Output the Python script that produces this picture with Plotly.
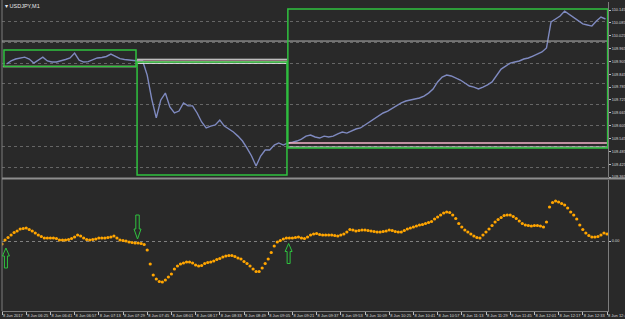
import pandas as pd
import plotly.graph_objects as go

# ---------------- data ----------------
START = "2017-06-08 06:09"
symbol_title = "▾ USDJPY,M1"

# close prices, sampled every 3 minutes from 06:12
price_close = [
    109.893, 109.907, 109.916, 109.921, 109.925, 109.916, 109.897, 109.911, 109.925, 109.907,
    109.902, 109.902, 109.907, 109.914, 109.921, 109.944, 109.911, 109.902, 109.904, 109.911,
    109.921, 109.923, 109.928, 109.939, 109.930, 109.918, 109.914, 109.911, 109.911, 109.907,
    109.907, 109.841, 109.729, 109.641, 109.725, 109.757, 109.692, 109.664, 109.673, 109.711,
    109.697, 109.697, 109.664, 109.622, 109.594, 109.603, 109.608, 109.631, 109.603, 109.589,
    109.575, 109.556, 109.533, 109.500, 109.463, 109.416, 109.463, 109.491, 109.491, 109.514,
    109.524, 109.514, 109.524, 109.528, 109.533, 109.542, 109.556, 109.561, 109.552, 109.547,
    109.556, 109.552, 109.556, 109.566, 109.575, 109.570, 109.580, 109.589, 109.594, 109.608,
    109.622, 109.636, 109.650, 109.664, 109.673, 109.687, 109.701, 109.711, 109.720, 109.725,
    109.729, 109.734, 109.743, 109.757, 109.776, 109.809, 109.832, 109.841, 109.837, 109.827,
    109.818, 109.804, 109.790, 109.785, 109.776, 109.785, 109.795, 109.809, 109.837, 109.869,
    109.883, 109.897, 109.902, 109.907, 109.916, 109.921, 109.930, 109.939, 109.949, 109.968,
    110.089, 110.103, 110.117, 110.140, 110.126, 110.108, 110.094, 110.080, 110.075, 110.070,
    110.094, 110.112, 110.103,
]
price_step_min = 3

# oscillator values, sampled every 2 minutes from 06:09
osc_values = [
    -3, 1, 3.5, 6, 8.5, 10, 12, 12.5, 13, 11.5,
    10, 8, 6, 4.5, 3, 3, 3, 3, 2.5, 1,
    1, 1, 1.5, 2.5, 4, 6, 5, 3, 1.5, 1,
    1.5, 2, 3, 3, 3, 3.5, 4, 5, 3, 1,
    0.5, 0, -1, -1.5, -2, -2, -2.5, -3.5, -9, -23,
    -34, -38, -40.5, -41, -39, -36, -33, -28, -25, -23,
    -22, -21, -21, -22, -24, -25, -24.5, -22.5, -21.5, -21,
    -20, -18.5, -17.5, -16, -15, -14.5, -14.5, -15.5, -17, -18,
    -20.5, -22.5, -25, -28, -30.5, -30.5, -27, -22.5, -18, -11.5,
    -5, -1, 0.5, 2, 3, 3, 3, 3.5, 4, 3,
    2.5, 4, 6, 7, 7.5, 6.5, 6, 6, 6, 6,
    5.5, 5, 6, 7, 9, 11.5, 11, 10, 10.5, 11,
    11, 10.5, 10, 9.5, 9, 9, 9.5, 10, 11, 10.5,
    9.5, 9, 9, 10.5, 12, 13, 14, 15, 16, 16.5,
    17.5, 18.5, 19.5, 22, 24, 26, 28, 29, 28.5, 26,
    22.5, 17.5, 14, 11, 9, 7, 5, 3.5, 3, 6,
    9, 12, 15.5, 19, 21.5, 23.5, 25.5, 26, 26, 24.5,
    22.5, 20, 17.5, 16, 15.5, 15, 15.5, 15.5, 15, 14,
    19, 34, 38.5, 40, 39, 37.5, 36, 33, 29, 26,
    22, 16, 11.5, 8, 5.5, 4, 4, 4.5, 6, 8,
    7,
]
osc_step_min = 2

# time axis labels
tick_times = ["06:09", "06:25", "06:41", "06:57", "07:13", "07:29", "07:45", "08:01", "08:17",
              "08:33", "08:49", "09:05", "09:21", "09:37", "09:53", "10:09", "10:25", "10:41",
              "10:57", "11:13", "11:29", "11:45", "12:01", "12:17", "12:33", "12:49"]
tick_labels = ["8 Jun 2017"] + ["8 Jun " + t for t in tick_times[1:]]

price_ticks = [110.145, 110.085, 110.025, 109.965, 109.905, 109.845, 109.785,
               109.725, 109.665, 109.605, 109.545, 109.485, 109.425, 109.365]
price_grid = [110.0913, 109.9942, 109.8970, 109.7999, 109.7027, 109.6056, 109.5084, 109.4113]

# range boxes: (start minute, end minute, top price, bottom price)
range_boxes = [(1.3, 88.6, 109.958, 109.881),
               (89.3, 188.4, 109.902, 109.374),
               (189.0, 400.4, 110.150, 109.500)]
# level lines: (start minute, end minute, price, colour key)
level_lines = [(0.0, 400.6, 110.000, "grey"),
               (0.6, 88.6, 109.881, "pink"),
               (89.3, 188.4, 109.915, "white"),
               (89.3, 188.4, 109.905, "pink"),
               (89.3, 188.4, 109.896, "white"),
               (189.0, 400.6, 109.524, "pink"),
               (189.0, 400.6, 109.505, "white")]
# signals: (minute, direction, oscillator level at arrow tip)
signals = [(2.6, "up", -7), (89.6, "down", 2), (189.5, "up", -2.5)]

# ---------------- figure ----------------
W, H = 625, 319
t0 = pd.Timestamp(START)
def tm(m):
    return t0 + pd.Timedelta(minutes=m)

price_x = [tm(price_step_min * (j + 1)) for j in range(len(price_close))]
osc_x = [tm(osc_step_min * k) for k in range(len(osc_values))]
tick_x = [pd.Timestamp("2017-06-08 " + t) for t in tick_times]

BG = "#292929"
GREEN = "#2fc23f"
COLORS = {"pink": "#f5b5cb", "white": "#eeeeee", "grey": "#b4b4b4"}
FONT = "Liberation Sans"

fig = go.Figure()
fig.add_trace(go.Scatter(x=price_x, y=price_close, mode="lines",
                         line=dict(color="#7f8ac0", width=1.4),
                         xaxis="x", yaxis="y", hoverinfo="skip"))
fig.add_trace(go.Scatter(x=osc_x, y=osc_values, mode="markers",
                         marker=dict(color="#ffa500", size=3.2, line=dict(width=0)),
                         xaxis="x2", yaxis="y2", hoverinfo="skip"))

x_domain = [2 / W, 608 / W]
x_range = [tm(0), tm(400.66)]
up_dom = [1 - 177 / H, 1 - 2 / H]
lo_dom = [1 - 311 / H, 1 - 180 / H]

fig.update_layout(
    width=W, height=H, margin=dict(l=0, r=0, t=0, b=0, autoexpand=False),
    paper_bgcolor=BG, plot_bgcolor=BG, showlegend=False,
    font=dict(family=FONT, color="#d0d0d0"),
    xaxis=dict(domain=x_domain, range=x_range, type="date", anchor="y", automargin=False,
               showticklabels=False, showgrid=False, zeroline=False,
               showline=False, ticks=""),
    xaxis2=dict(domain=x_domain, range=x_range, type="date", anchor="y2", automargin=False,
                matches="x", tickvals=tick_x, ticktext=tick_labels, tickangle=0,
                ticks="outside", ticklen=3, tickcolor="#bdbdbd", tickwidth=1,
                ticklabelposition="outside right", ticklabeloverflow="allow",
                tickfont=dict(size=4, color="#d8d8d8", family=FONT),
                showgrid=False, zeroline=False, showline=True,
                linecolor="#7c7c7c", linewidth=1),
    yaxis=dict(domain=up_dom, range=[109.365, 110.1824], side="right", anchor="x",
               automargin=False, tickvals=price_ticks, tickformat=".3f",
               ticks="outside", ticklen=2, tickcolor="#bdbdbd", ticklabelstandoff=0,
               tickfont=dict(size=3.9, color="#d8d8d8", family=FONT),
               showgrid=False, zeroline=False, showline=True,
               linecolor="#7c7c7c", linewidth=1,
               minor=dict(tickvals=price_grid, showgrid=True, griddash="dot",
                          gridcolor="#666666", gridwidth=1, ticks="")),
    yaxis2=dict(domain=lo_dom, range=[-70, 61], side="right", anchor="x2",
                automargin=False, tickvals=[0], ticktext=["0.00"],
                ticks="outside", ticklen=2, tickcolor="#bdbdbd", ticklabelstandoff=0,
                tickfont=dict(size=3.9, color="#d8d8d8", family=FONT),
                showgrid=True, griddash="dot", gridcolor="#808080", gridwidth=1,
                zeroline=False, showline=True, linecolor="#7c7c7c", linewidth=1),
)

shapes = []
# frame: left border and panel separator
shapes.append(dict(type="line", xref="paper", yref="paper", x0=2 / W, x1=2 / W,
                   y0=1 - 311 / H, y1=1, line=dict(color="#7c7c7c", width=1)))
shapes.append(dict(type="line", xref="paper", yref="paper", x0=2 / W, x1=1,
                   y0=1 - 178.5 / H, y1=1 - 178.5 / H, line=dict(color="#8e8e8e", width=2)))

for (m0, m1, p, ck) in level_lines:
    shapes.append(dict(type="line", xref="x", yref="y", x0=tm(m0), x1=tm(m1), y0=p, y1=p,
                       line=dict(color=COLORS[ck], width=1.6 if ck == "pink" else 1)))
for (m0, m1, top, bot) in range_boxes:
    shapes.append(dict(type="rect", xref="x", yref="y", x0=tm(m0), x1=tm(m1), y0=bot, y1=top,
                       line=dict(color=GREEN, width=1.5), fillcolor="rgba(0,0,0,0)"))

UP_PATH = "M0,0 L3.5,-8 L1.5,-8 L1.5,-20 L-1.5,-20 L-1.5,-8 L-3.5,-8 Z"
DOWN_PATH = "M0,0 L3.5,10 L1.7,10 L1.7,24 L-1.7,24 L-1.7,10 L-3.5,10 Z"
for (m, d, lvl) in signals:
    shapes.append(dict(type="path", xref="x2", yref="y2", xsizemode="pixel", ysizemode="pixel",
                       xanchor=tm(m), yanchor=lvl,
                       path=UP_PATH if d == "up" else DOWN_PATH,
                       line=dict(color=GREEN, width=1), fillcolor="rgba(0,0,0,0)"))
fig.update_layout(shapes=shapes)

fig.add_annotation(text=symbol_title, xref="paper", yref="paper", x=3 / W, y=1 - 1 / H,
                   xanchor="left", yanchor="top", showarrow=False,
                   font=dict(size=5.5, color="#e8e8e8", family=FONT))

fig.write_html("out.html")
